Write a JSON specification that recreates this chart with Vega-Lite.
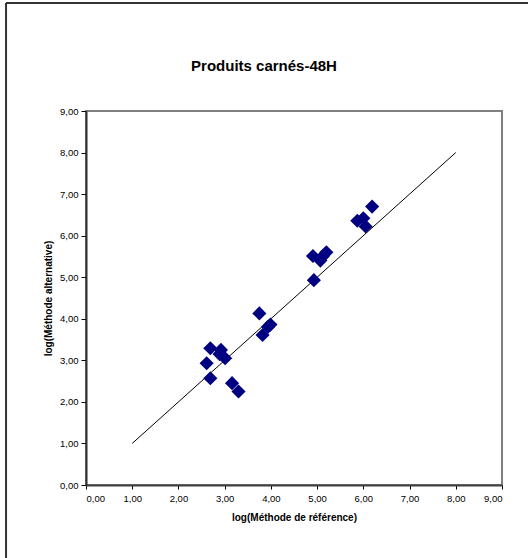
{
  "$schema": "https://vega.github.io/schema/vega-lite/v6.json",
  "autosize": "none",
  "width": 416,
  "height": 374,
  "padding": {"left": 86, "top": 111, "right": 26, "bottom": 73},
  "background": "white",
  "config": {
    "font": "Liberation Sans",
    "view": {"stroke": "#808080", "strokeWidth": 2}
  },
  "title": {
    "text": "Produits carnés-48H",
    "font": "Liberation Sans",
    "fontSize": 15,
    "fontWeight": "bold",
    "color": "black",
    "anchor": "middle",
    "frame": "group",
    "dx": -30,
    "offset": -72
  },
  "datasets": {
    "points": [
      {"ref": 2.69, "alt": 3.29},
      {"ref": 2.92, "alt": 3.25},
      {"ref": 2.89, "alt": 3.15},
      {"ref": 3.01, "alt": 3.05},
      {"ref": 2.61, "alt": 2.93},
      {"ref": 2.69, "alt": 2.57},
      {"ref": 3.16, "alt": 2.45},
      {"ref": 3.3, "alt": 2.25},
      {"ref": 3.75, "alt": 4.13},
      {"ref": 3.94, "alt": 3.81},
      {"ref": 3.99, "alt": 3.86},
      {"ref": 3.82, "alt": 3.61},
      {"ref": 4.91, "alt": 5.51},
      {"ref": 5.2, "alt": 5.6},
      {"ref": 5.12, "alt": 5.5},
      {"ref": 5.07, "alt": 5.4},
      {"ref": 4.93, "alt": 4.93},
      {"ref": 6.19, "alt": 6.7},
      {"ref": 5.87, "alt": 6.36},
      {"ref": 6.0, "alt": 6.42},
      {"ref": 6.05, "alt": 6.22}
    ],
    "line": [
      {"ref": 1, "alt": 1},
      {"ref": 8, "alt": 8}
    ]
  },
  "layer": [
    {
      "data": {"name": "line"},
      "mark": {"type": "line", "color": "black", "strokeWidth": 1},
      "encoding": {
        "x": {
          "field": "ref",
          "type": "quantitative",
          "scale": {"domain": [0, 9], "nice": false},
          "axis": {
            "title": "log(Méthode de référence)",
            "titleFont": "Liberation Sans",
            "titleFontSize": 10,
            "titleFontWeight": "bold",
            "titleColor": "black",
            "titlePadding": 10,
            "values": [0, 1, 2, 3, 4, 5, 6, 7, 8, 9],
            "labelExpr": "replace(format(datum.value, '.2f'), '.', ',')",
            "labelFont": "Liberation Sans",
            "labelFontSize": 9.5,
            "labelColor": "black",
            "labelPadding": 4,
            "tickSize": 4,
            "tickColor": "black",
            "domainColor": "#404040",
            "domainWidth": 2,
            "grid": false
          }
        },
        "y": {
          "field": "alt",
          "type": "quantitative",
          "scale": {"domain": [0, 9], "nice": false},
          "axis": {
            "title": "log(Méthode alternative)",
            "titleFont": "Liberation Sans",
            "titleFontSize": 10,
            "titleFontWeight": "bold",
            "titleColor": "black",
            "titlePadding": 6,
            "values": [0, 1, 2, 3, 4, 5, 6, 7, 8, 9],
            "labelExpr": "replace(format(datum.value, '.2f'), '.', ',')",
            "labelFont": "Liberation Sans",
            "labelFontSize": 9.5,
            "labelColor": "black",
            "labelPadding": 3,
            "tickSize": 5,
            "tickColor": "black",
            "domainColor": "#303030",
            "domainWidth": 2,
            "grid": false
          }
        }
      }
    },
    {
      "data": {"name": "points"},
      "mark": {"type": "point", "shape": "diamond", "filled": true, "color": "#000080", "opacity": 1, "size": 200},
      "encoding": {
        "x": {"field": "ref", "type": "quantitative"},
        "y": {"field": "alt", "type": "quantitative"}
      }
    },
    {
      "data": {"values": [{}]},
      "mark": {"type": "rule", "color": "#333333", "strokeWidth": 2, "clip": false},
      "encoding": {
        "x": {"datum": -1.73, "type": "quantitative"},
        "y": {"datum": -1.8, "type": "quantitative"},
        "y2": {"datum": 11.6}
      }
    },
    {
      "data": {"values": [{}]},
      "mark": {"type": "rule", "color": "#333333", "strokeWidth": 2, "clip": false},
      "encoding": {
        "y": {"datum": 11.6, "type": "quantitative"},
        "x": {"datum": -1.73, "type": "quantitative"},
        "x2": {"datum": 9.7}
      }
    }
  ]
}
